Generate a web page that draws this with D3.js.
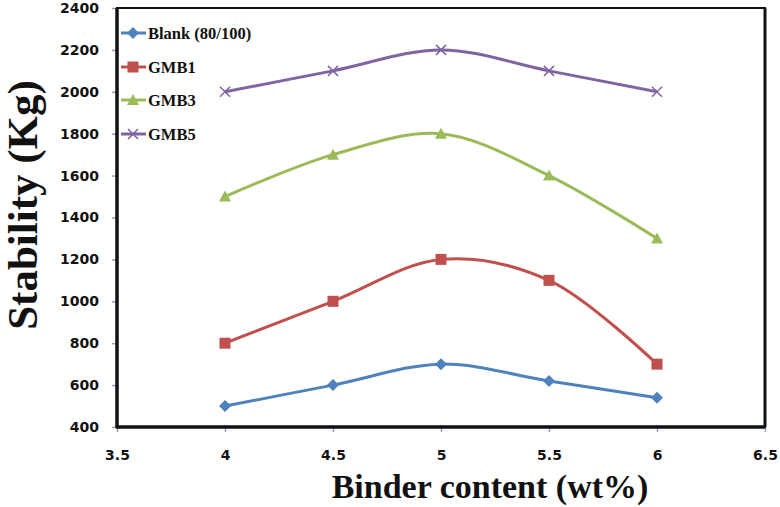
<!DOCTYPE html>
<html><head><meta charset="utf-8">
<script src="https://cdn.jsdelivr.net/npm/d3@7"></script>
<style>body{margin:0;background:#fff}</style>
</head><body>
<svg id="c" width="780" height="507"></svg>
<script>
const xValues = [4, 4.5, 5, 5.5, 6];
const seriesNames = ["Blank (80/100)", "GMB1", "GMB3", "GMB5"];
const blank = [500, 600, 700, 620, 540];
const gmb1 = [800, 1000, 1200, 1100, 700];
const gmb3 = [1500, 1700, 1800, 1600, 1300];
const gmb5 = [2000, 2100, 2200, 2100, 2000];
const xTicks = [3.5, 4, 4.5, 5, 5.5, 6, 6.5];
const yTicks = [400, 600, 800, 1000, 1200, 1400, 1600, 1800, 2000, 2200, 2400];
const colors = ["#4F81BD", "#C0504D", "#9BBB59", "#8064A2"];
const symbols = ["diamond", "square", "triangle", "cross"];

const svg = d3.select("#c");
const L = 117, R = 765, T = 8, B = 427;
const x = d3.scaleLinear().domain([3.5, 6.5]).range([L, R]);
const y = d3.scaleLinear().domain([400, 2400]).range([B, T]);
const tickFont = "'DejaVu Sans', Verdana, sans-serif";
const serif = "'Liberation Serif', 'Times New Roman', serif";

const yAxis = d3.axisLeft(y).tickValues(yTicks).tickSize(5).tickPadding(13).tickFormat(d3.format("d"));
const gy = svg.append("g").attr("transform", `translate(${L},0)`).call(yAxis);
gy.select(".domain").remove();
gy.selectAll("line").attr("stroke", "#8EA3C3").attr("stroke-width", 1.5);
gy.selectAll("text").attr("font-family", tickFont).attr("font-weight", "bold").attr("font-size", 14).attr("fill", "#111");

const xAxis = d3.axisBottom(x).tickValues(xTicks).tickSize(5).tickPadding(18).tickFormat(d => d);
const gx = svg.append("g").attr("transform", `translate(0,${B})`).call(xAxis);
gx.select(".domain").remove();
gx.selectAll("line").attr("stroke", "#8EA3C3").attr("stroke-width", 1.5);
gx.selectAll("text").attr("font-family", tickFont).attr("font-weight", "bold").attr("font-size", 14).attr("fill", "#111");

svg.append("rect").attr("x", L).attr("y", T).attr("width", R - L).attr("height", B - T)
  .attr("fill", "none").attr("stroke", "#111").attr("stroke-width", 2);
svg.append("line").attr("x1", L).attr("x2", L).attr("y1", T).attr("y2", B + 1).attr("stroke", "#111").attr("stroke-width", 3.5);
svg.append("line").attr("x1", L - 1).attr("x2", R).attr("y1", B).attr("y2", B).attr("stroke", "#111").attr("stroke-width", 3.5);
svg.append("line").attr("x1", R).attr("x2", R).attr("y1", T).attr("y2", B).attr("stroke", "#111").attr("stroke-width", 3);

const allSeries = [blank, gmb1, gmb3, gmb5];
const line = d3.line().x((d, i) => x(xValues[i])).y(d => y(d)).curve(d3.curveCatmullRom.alpha(0.5));

function drawMarker(g, type, cx, cy, color) {
  if (type === "diamond") {
    g.append("path").attr("d", `M${cx},${cy-6}L${cx+6},${cy}L${cx},${cy+6}L${cx-6},${cy}Z`).attr("fill", color);
  } else if (type === "square") {
    g.append("rect").attr("x", cx - 5.5).attr("y", cy - 5.5).attr("width", 11).attr("height", 11).attr("fill", color);
  } else if (type === "triangle") {
    g.append("path").attr("d", `M${cx},${cy-6}L${cx+6},${cy+5}L${cx-6},${cy+5}Z`).attr("fill", color);
  } else {
    g.append("path").attr("d", `M${cx-5},${cy-5}L${cx+5},${cy+5}M${cx-5},${cy+5}L${cx+5},${cy-5}`).attr("stroke", color).attr("stroke-width", 1.5).attr("fill", "none");
  }
}

allSeries.forEach((s, k) => {
  const g = svg.append("g");
  g.append("path").datum(s).attr("d", line).attr("fill", "none").attr("stroke", colors[k]).attr("stroke-width", 3);
  s.forEach((v, i) => drawMarker(g, symbols[k], x(xValues[i]), y(v), colors[k]));
});

const legY = [33, 67, 100, 134];
seriesNames.forEach((n, k) => {
  const g = svg.append("g");
  g.append("line").attr("x1", 121).attr("x2", 146).attr("y1", legY[k]).attr("y2", legY[k]).attr("stroke", colors[k]).attr("stroke-width", 3);
  drawMarker(g, symbols[k], 133, legY[k], colors[k]);
  g.append("text").attr("x", 148).attr("y", legY[k] + 5.5).text(n)
    .attr("font-family", serif).attr("font-weight", "bold").attr("font-size", 16.5).attr("fill", "#111");
});

svg.append("text").attr("x", 490).attr("y", 498).attr("text-anchor", "middle").text("Binder content (wt%)")
  .attr("font-family", serif).attr("font-weight", "bold").attr("font-size", 34).attr("fill", "#111");
svg.append("text").attr("transform", "translate(37,205) rotate(-90)").attr("text-anchor", "middle").text("Stability (Kg)")
  .attr("font-family", serif).attr("font-weight", "bold").attr("font-size", 43).attr("fill", "#111");
</script>
</body></html>
